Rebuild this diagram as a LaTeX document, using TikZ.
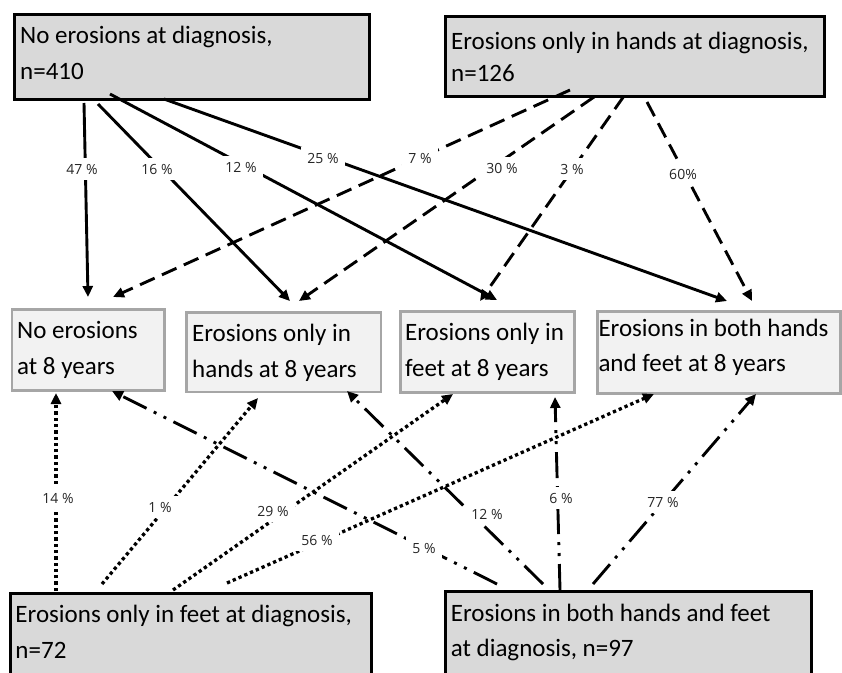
\documentclass[tikz,border=0pt]{standalone}
\usepackage{fontspec}
\setmainfont{Carlito}
\newfontfamily\labfont{Open Sans}
\usetikzlibrary{arrows.meta}
\definecolor{boxgray}{HTML}{D9D9D9}
\definecolor{boxlight}{HTML}{F2F2F2}
\definecolor{bordergray}{HTML}{A6A6A6}
\begin{document}
\begin{tikzpicture}[x=1pt,y=-1pt,
  darkbox/.style={draw=black, line width=3pt, fill=boxgray, inner sep=0pt, anchor=north west},
  lightbox/.style={draw=bordergray, line width=2.8pt, fill=boxlight, inner sep=0pt, anchor=north west},
  boxtext/.style={anchor=base west, inner sep=0pt, font=\fontsize{25}{36}\selectfont},
  pct/.style={fill=white, inner sep=6pt, font=\labfont\fontsize{14}{16}\selectfont, text=black!85},
  conn/.style={line width=2.9pt, -{Triangle[length=11pt,width=10pt]}},
  solidc/.style={conn},
  dashc/.style={conn, dash pattern=on 16pt off 8pt},
  dotc/.style={conn, line width=3.3pt, dash pattern=on 3.3pt off 3pt},
  ddc/.style={conn, dash pattern=on 26pt off 8pt on 3pt off 8pt on 3pt off 8pt},
]
\useasboundingbox (0,0) rectangle (842,672);
\fill[white] (0,0) rectangle (842,672);

% boxes
\node[darkbox, minimum width=355.5pt, minimum height=85pt] (tl) at (12.5,13) {};
\node[darkbox, minimum width=379.5pt, minimum height=80pt] (tr) at (443.5,14.5) {};
\node[lightbox, minimum width=152.5pt, minimum height=81pt] (m1) at (10.5,308) {};
\node[lightbox, minimum width=194.2pt, minimum height=79.5pt] (m2) at (185.3,311) {};
\node[lightbox, minimum width=174.3pt, minimum height=80.4pt] (m3) at (398.7,310.3) {};
\node[lightbox, minimum width=242.9pt, minimum height=82.3pt] (m4) at (596.3,309.7) {};
\node[darkbox, minimum width=360.4pt, minimum height=100pt] (bl) at (9.3,591.7) {};
\node[darkbox, minimum width=365.7pt, minimum height=100pt] (br) at (444,590) {};

% box texts
\node[boxtext] (tl1) at (20,43) {No erosions at diagnosis,};
\node[boxtext] (tl2) at (20,79) {n=410};
\node[boxtext] (tr1) at (451,49) {Erosions only in hands at diagnosis,};
\node[boxtext] (tr2) at (451,81) {n=126};
\node[boxtext] (m1a) at (17,338) {No erosions};
\node[boxtext] (m1b) at (17,374) {at 8 years};
\node[boxtext] (m2a) at (192,341) {Erosions only in};
\node[boxtext] (m2b) at (192,377) {hands at 8 years};
\node[boxtext] (m3a) at (405,340) {Erosions only in};
\node[boxtext] (m3b) at (405,376) {feet at 8 years};
\node[boxtext] (m4a) at (598.3,336) {Erosions in both hands};
\node[boxtext] (m4b) at (598.3,371) {and feet at 8 years};
\node[boxtext] (bl1) at (15.3,622.7) {Erosions only in feet at diagnosis,};
\node[boxtext] (bl2) at (15.3,658) {n=72};
\node[boxtext] (br1) at (450.7,621) {Erosions in both hands and feet};
\node[boxtext] (br2) at (450.7,656) {at diagnosis, n=97};

% connector end points
\coordinate (s47) at (84,103);   \coordinate (e47) at (88,297);
\coordinate (s16) at (98,104);   \coordinate (e16) at (290,301);
\coordinate (s12) at (110,94);   \coordinate (e12) at (497,300);
\coordinate (s25) at (164,99);   \coordinate (e25) at (727,301);
\coordinate (s7) at (570,90);    \coordinate (e7) at (113,297);
\coordinate (s30) at (594,97);   \coordinate (e30) at (299,301);
\coordinate (s3) at (624,96);    \coordinate (e3) at (480,301);
\coordinate (s60) at (647,102);  \coordinate (e60) at (752,301);
\coordinate (s14) at (56,591);   \coordinate (e14) at (56,393);
\coordinate (s1) at (102,584);   \coordinate (e1) at (258,398);
\coordinate (s29) at (173,590);  \coordinate (e29) at (453,394);
\coordinate (s56) at (227,583);  \coordinate (e56) at (654,394);
\coordinate (s5) at (497,584);   \coordinate (e5) at (112,391);
\coordinate (s12b) at (543,584); \coordinate (e12b) at (347,391);
\coordinate (s6) at (560,590);   \coordinate (e6) at (555,397);
\coordinate (s77) at (593,584);  \coordinate (e77) at (756,394);

% connectors
\draw[solidc] (s47) -- (e47);
\draw[solidc] (s16) -- (e16);
\draw[solidc] (s12) -- (e12);
\draw[solidc] (s25) -- (e25);
\draw[dashc] (s7) -- (e7);
\draw[dashc] (s30) -- (e30);
\draw[dashc] (s3) -- (e3);
\draw[dashc] (s60) -- (e60);
\draw[dotc] (s14) -- (e14);
\draw[dotc] (s1) -- (e1);
\draw[dotc] (s29) -- (e29);
\draw[dotc] (s56) -- (e56);
\draw[ddc] (s5) -- (e5);
\draw[ddc] (s12b) -- (e12b);
\draw[ddc] (s6) -- (e6);
\draw[ddc] (s77) -- (e77);

% labels
\node[pct] (l47) at (82,169) {47 \%};
\node[pct] (l16) at (157,169) {16 \%};
\node[pct] (l12) at (241,167) {12 \%};
\node[pct] (l25) at (323,158) {25 \%};
\node[pct] (l7) at (420,158) {7 \%};
\node[pct] (l30) at (502,168) {30 \%};
\node[pct] (l3) at (572,169) {3 \%};
\node[pct] (l60) at (683,174) {60\%};
\node[pct] (l14) at (58,498) {14 \%};
\node[pct] (l1) at (160,507) {1 \%};
\node[pct] (l29) at (273,511) {29 \%};
\node[pct] (l56) at (317,540) {56 \%};
\node[pct] (l5) at (424,548) {5 \%};
\node[pct] (l12b) at (487,514) {12 \%};
\node[pct] (l6) at (561,498) {6 \%};
\node[pct] (l77) at (663,502) {77 \%};
\end{tikzpicture}
\end{document}
